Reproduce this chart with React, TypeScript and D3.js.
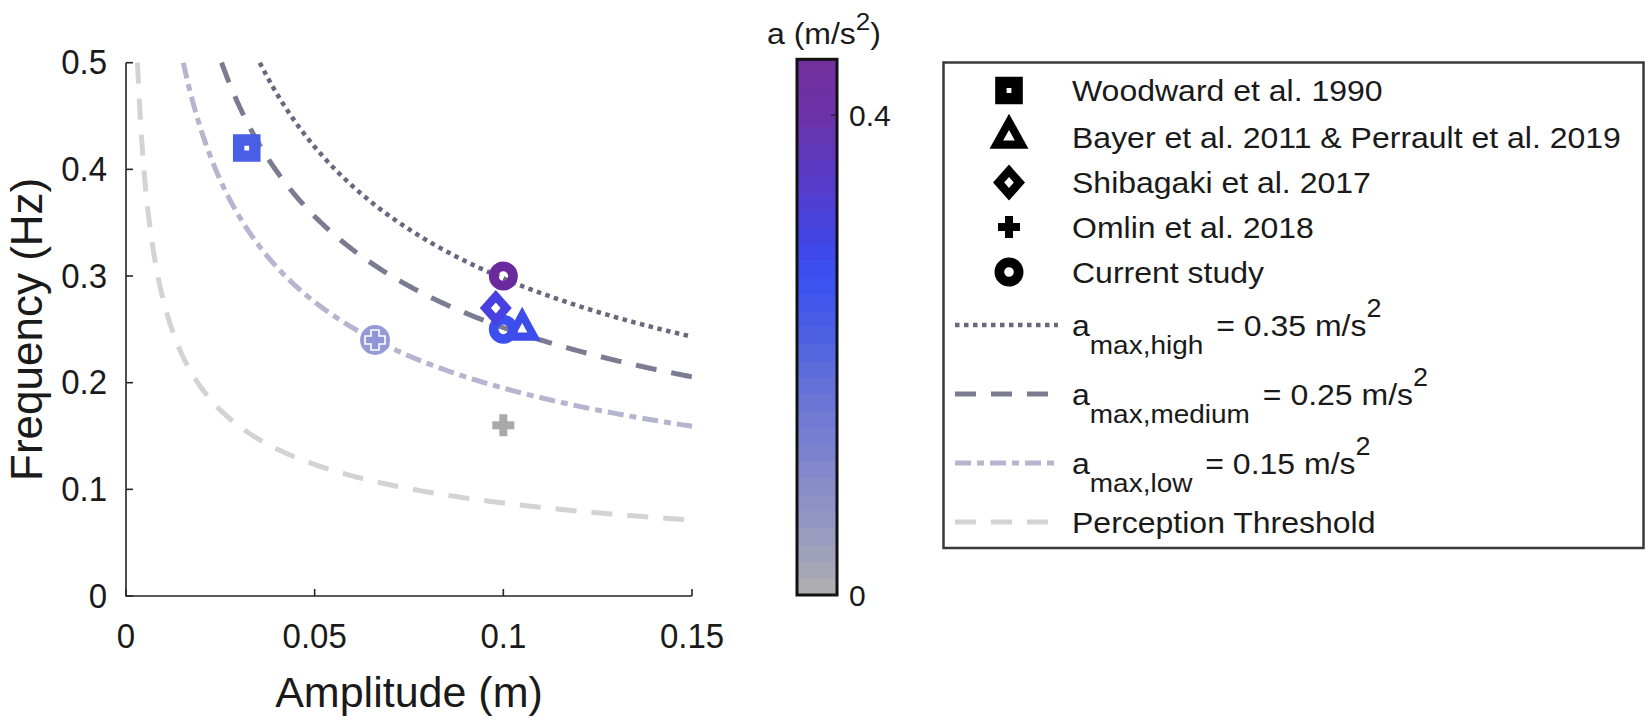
import React from "react";
import * as d3 from "d3";

// ---------- data ----------
const amplitudeTicks = [0, 0.05, 0.1, 0.15];
const amplitudeTickLabels = ["0", "0.05", "0.1", "0.15"];
const frequencyTicks = [0, 0.1, 0.2, 0.3, 0.4, 0.5];
const frequencyTickLabels = ["0", "0.1", "0.2", "0.3", "0.4", "0.5"];
const colorbarTicks = [0, 0.4];
const colorbarTickLabels = ["0", "0.4"];

const studyNames = [
  "Woodward et al. 1990",
  "Bayer et al. 2011 & Perrault et al. 2019",
  "Shibagaki et al. 2017",
  "Omlin et al. 2018",
  "Current study",
];
const studyMarkers = ["square", "triangle", "diamond", "plus", "circle"];

// points in drawing order
const pointMarker = ["circlePlus", "plus", "square", "circle", "triangle", "diamond", "circle"];
const pointAmplitude = [0.066, 0.1, 0.032, 0.1, 0.105, 0.098, 0.1];
const pointFrequency = [0.24, 0.16, 0.42, 0.25, 0.25, 0.27, 0.3];
const pointColor = ["#8f96d6", "#a9a9a9", "#4a5de6", "#3d4ff0", "#3f4cec", "#4840e0", "#6a2a9e"];

// acceleration iso-lines f = sqrt(a/A) / (2*pi)
const accelLevels = [0.35, 0.25, 0.15, 0.03];
const accelSubscripts = ["max,high", "max,medium", "max,low", ""];
const accelValueText = ["0.35", "0.25", "0.15", ""];
const curveColor = ["#68687e", "#7b7b92", "#b5b5cf", "#d3d3d3"];
const curveDash = ["4.5 4.5", "21 15", "16 6 7 6", "21 15"];
const curveWidth = [4.5, 5, 5, 5];

// colormap (value -> colour)
const colorStopValues = [0, 0.033, 0.081, 0.129, 0.177, 0.225, 0.266, 0.288, 0.32, 0.352, 0.4, 0.4465];
const colorStopColors = [
  "#b0b0b0", "#a0a2ba", "#8c90c6", "#7880d0", "#6270d8", "#4a5ee6",
  "#3a50f2", "#3f48ea", "#4b40d8", "#5b3ac4", "#6c32a8", "#72309c",
];
const colorbarMax = 0.4465;
const colorbarBands = 32;

// ---------- layout ----------
const W = 1650;
const H = 722;
const FONT = "'Liberation Sans', Arial, Helvetica, sans-serif";

const x = d3.scaleLinear().domain([0, 0.15]).range([126, 692]);
const y = d3.scaleLinear().domain([0, 0.5]).range([596, 62.7]);
const cbY = d3.scaleLinear().domain([0, colorbarMax]).range([595, 59.3]);
const cmap = d3.scaleLinear<string>().domain(colorStopValues).range(colorStopColors).interpolate(d3.interpolateRgb);

// ---------- marker paths (even-odd, centred on 0,0) ----------
function squarePath(o: number, h: number) {
  return `M${-o},${-o}H${o}V${o}H${-o}Z M${-h},${-h}H${h}V${h}H${-h}Z`;
}
function circlePath(r: number, h: number) {
  return `M${-r},0A${r},${r} 0 1,0 ${r},0A${r},${r} 0 1,0 ${-r},0Z M${-h},0A${h},${h} 0 1,0 ${h},0A${h},${h} 0 1,0 ${-h},0Z`;
}
function diamondPath(hw: number, hh: number, k: number) {
  const iw = hw * k, ih = hh * k;
  return `M0,${-hh}L${hw},0L0,${hh}L${-hw},0Z M0,${-ih}L${iw},0L0,${ih}L${-iw},0Z`;
}
function trianglePath(w: number, h: number, k: number) {
  // centred on the centroid
  const pts = [[0, (-2 * h) / 3], [w / 2, h / 3], [-w / 2, h / 3]];
  const outer = pts.map((p, i) => `${i ? "L" : "M"}${p[0]},${p[1]}`).join("") + "Z";
  const inner = pts.map((p, i) => `${i ? "L" : "M"}${p[0] * k},${p[1] * k}`).join("") + "Z";
  return outer + " " + inner;
}
function plusPath(s: number, a: number) {
  const o = s / 2, t = a / 2;
  return `M${-t},${-o}H${t}V${-t}H${o}V${t}H${t}V${o}H${-t}V${t}H${-o}V${-t}H${-t}Z`;
}

function markerPath(kind: string, legend = false) {
  switch (kind) {
    case "square": return squarePath(13.8, 2.4);
    case "circle": return circlePath(14.5, 4.8);
    case "diamond": return diamondPath(16, 18, 0.3);
    case "triangle": return legend ? trianglePath(39, 35, 0.3) : trianglePath(37, 34, 0.28);
    case "plus": return plusPath(22, 8);
    default: return "";
  }
}

function Marker({ kind, cx, cy, color, legend = false }: any) {
  if (kind === "circlePlus") {
    return (
      <g transform={`translate(${cx},${cy})`}>
        <circle r={15} fill={color} opacity={0.95} />
        <path d={plusPath(20, 8)} fill={color} stroke="#ffffff" strokeWidth={1.6} />
      </g>
    );
  }
  return (
    <path transform={`translate(${cx},${cy})`} d={markerPath(kind, legend)} fill={color} fillRule="evenodd" />
  );
}

function Txt({ x: tx, y: ty, size, anchor = "start", rotate = 0, stretch = 1, children, fill = "#1a1a1a" }: any) {
  return (
    <text
      transform={`translate(${tx},${ty}) scale(1,${stretch})${rotate ? ` rotate(${rotate})` : ""}`}
      fontSize={size}
      textAnchor={anchor}
      fill={fill}
      fontFamily={FONT}
    >
      {children}
    </text>
  );
}

export default function App() {
  const curves = accelLevels.map((a) => {
    const aMin = a / (Math.PI * Math.PI); // amplitude where f = 0.5 Hz
    const amps = d3.range(aMin, 0.15, 0.0004).concat([0.15]);
    const line = d3.line<number>().x((A) => x(A)).y((A) => y(Math.sqrt(a / A) / (2 * Math.PI)));
    return line(amps) || "";
  });

  const bandH = (cbY(0) - cbY(colorbarMax)) / colorbarBands;
  const bands = d3.range(colorbarBands).map((i) => {
    const v0 = (i / colorbarBands) * colorbarMax;
    const v1 = ((i + 1) / colorbarBands) * colorbarMax;
    return { y: cbY(v1), h: bandH + 0.6, c: cmap((v0 + v1) / 2) };
  });

  const legendRowsY = [90.5, 137, 182.5, 227, 272];
  const legendLineY = [325, 394, 463, 522];
  const legendTextX = 1072;
  const LS = 0.93; // vertical scale of legend text

  return (
    <svg
      width={W}
      height={H}
      viewBox={`0 0 ${W} ${H}`}
      style={{ position: "absolute", left: 0, top: 0, background: "#ffffff" }}
    >
      <rect x={0} y={0} width={W} height={H} fill="#ffffff" />
      <defs>
        <clipPath id="plotClip">
          <rect x={x(0)} y={y(0.5) - 3} width={x(0.15) - x(0) + 4} height={y(0) - y(0.5) + 3} />
        </clipPath>
      </defs>

      {/* curves */}
      <g clipPath="url(#plotClip)">
        {curves.map((d, i) => (
          <path key={i} d={d} fill="none" stroke={curveColor[i]} strokeWidth={curveWidth[i]} strokeDasharray={curveDash[i]} />
        ))}
      </g>

      {/* axes */}
      <g stroke="#262626" strokeWidth={1.6} fill="none">
        <path d={`M${x(0)},${y(0.5)}V${y(0)}H${x(0.15)}`} />
        {amplitudeTicks.map((t, i) => (
          <line key={"xt" + i} x1={x(t)} x2={x(t)} y1={y(0)} y2={y(0) - 7} />
        ))}
        {frequencyTicks.map((t, i) => (
          <line key={"yt" + i} x1={x(0)} x2={x(0) + 7} y1={y(t)} y2={y(t)} />
        ))}
      </g>
      {amplitudeTicks.map((t, i) => (
        <Txt key={"xl" + i} x={x(t)} y={648} size={33} anchor="middle" stretch={1.06}>{amplitudeTickLabels[i]}</Txt>
      ))}
      {frequencyTicks.map((t, i) => (
        <Txt key={"yl" + i} x={107} y={y(t) + 11.5} size={33} anchor="end" stretch={1.06}>{frequencyTickLabels[i]}</Txt>
      ))}
      <Txt x={(x(0) + x(0.15)) / 2} y={707} size={43} anchor="middle">Amplitude (m)</Txt>
      <Txt x={42} y={(y(0) + y(0.5)) / 2} size={44} anchor="middle" rotate={-90}>Frequency (Hz)</Txt>

      {/* data points */}
      {pointMarker.map((m, i) => (
        <Marker key={"p" + i} kind={m} cx={x(pointAmplitude[i])} cy={y(pointFrequency[i])} color={pointColor[i]} />
      ))}

      {/* colour bar */}
      <g>
        {bands.map((b, i) => (
          <rect key={"b" + i} x={797} y={b.y} width={40} height={b.h} fill={b.c} />
        ))}
        <rect x={797} y={cbY(colorbarMax)} width={40} height={cbY(0) - cbY(colorbarMax)} fill="none" stroke="#111" strokeWidth={3} />
        {colorbarTicks.map((t, i) => (
          <g key={"cbt" + i}>
            <line x1={837} x2={831} y1={cbY(t)} y2={cbY(t)} stroke="#222" strokeWidth={1.2} />
            <Txt x={849} y={cbY(t) + 11} size={30}>{colorbarTickLabels[i]}</Txt>
          </g>
        ))}
        <g transform="translate(767,44) scale(1,0.92)">
          <text x={0} y={0} fontSize={32} fontFamily={FONT} fill="#1a1a1a">
            a (m/s<tspan dy={-15} fontSize={26}>2</tspan><tspan dy={15}>)</tspan>
          </text>
        </g>
      </g>

      {/* legend */}
      <g>
        <rect x={943.5} y={62.5} width={700} height={485.5} fill="#ffffff" stroke="#3a3a3a" strokeWidth={2.5} />
        {studyNames.map((n, i) => (
          <g key={"ls" + i}>
            <Marker kind={studyMarkers[i]} cx={1009} cy={legendRowsY[i]} color="#000000" legend />
            <Txt x={legendTextX} y={legendRowsY[i] + 10.5} size={32} stretch={LS}>{n}</Txt>
          </g>
        ))}
        {accelLevels.map((a, i) => (
          <g key={"ll" + i}>
            <line x1={955} x2={1058} y1={legendLineY[i]} y2={legendLineY[i]} stroke={curveColor[i]} strokeWidth={curveWidth[i]} strokeDasharray={curveDash[i]} />
            <g transform={`translate(${legendTextX},${legendLineY[i] + 11}) scale(1,${LS})`}>
              {accelSubscripts[i] ? (
                <text x={0} y={0} fontSize={32} fontFamily={FONT} fill="#1a1a1a">
                  a
                  <tspan dy={19} fontSize={28}>{accelSubscripts[i]}</tspan>
                  <tspan dy={-19} dx={4} fontSize={32}>{` = ${accelValueText[i]} m/s`}</tspan>
                  <tspan dy={-20} fontSize={27}>2</tspan>
                </text>
              ) : (
                <text x={0} y={0} fontSize={32} fontFamily={FONT} fill="#1a1a1a">
                  Perception Threshold
                </text>
              )}
            </g>
          </g>
        ))}
      </g>
    </svg>
  );
}
